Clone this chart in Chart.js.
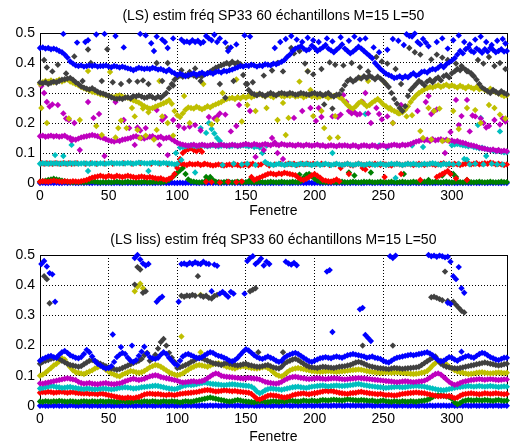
<!DOCTYPE html>
<html>
<head>
<meta charset="utf-8">
<script src="https://cdn.jsdelivr.net/npm/chart.js@4.4.0/dist/chart.umd.min.js"></script>
<style>
html, body { margin: 0; padding: 0; background: #fff; }
.box { position: absolute; left: 0; width: 510px; height: 222px; }
</style>
</head>
<body>
<div class="box" style="top:0"><canvas id="chart1"></canvas></div>
<div class="box" style="top:222px"><canvas id="chart2"></canvas></div>
<script>
// valeurs, en millièmes, une valeur toutes les 2 fenêtres
const xStep = 2;
const xTicks = [0, 50, 100, 150, 200, 250, 300];
const yTicks = [0, 0.1, 0.2, 0.3, 0.4, 0.5];
const titleTop = '(LS) estim fréq SP33 60 échantillons M=15 L=50';
const titleBottom = '(LS liss) estim fréq SP33 60 échantillons M=15 L=50';

// ---- (LS) ----
const topBlue1 = [
0,1,0,0,1,0,1,0,0,1, 0,1,1,0,0,1,0,1,0,0, 1,0,0,1,0,1,0,0,1,0, 0,1,0,1,0,0,1,0,1,0,
1,0,0,1,0,1,0,0,1,0, 0,1,0,0,1,0,1,0,0,1, 0,0,1,0,1,0,0,1,0,1, 1,0,1,0,0,1,0,1,0,0,
0,1,0,1,0,0,1,0,0,1, 1,0,0,1,0,1,0,0,1,0, 0,1,0,0,1,0,0,1,0,1, 0,0,1,0,1,0,1,0,0,1,
1,0,0,1,0,0,1,0,1,0, 0,1,0,1,0,0,1,0,0,1, 0,0,1,0,0,1,0,1,0,0, 1,0,0,1,0,1,0,0,1,0,
0,1,0,0,1,0,1,0,0,1, 0];
const topGreen = [
4,6,8,10,12,14,12,10,8,6, 4,3,2,3,2,3,2,3,4,6, 4,3,2,3,2,3,2,3,4,3, 2,3,4,3,2,3,2,3,4,3,
2,3,4,3,2,3,6,10,18,26, 34,42,50,30,12,6,4,3,2,3, 4,12,20,10,4,3,2,3,4,3, 2,3,4,3,2,3,4,3,2,3,
4,3,2,3,4,3,2,3,4,3, 2,3,4,3,2,6,18,28,30,22, 14,8,4,3,2,3,4,3,2,3, 4,3,2,3,4,3,2,3,4,3,
4,3,2,3,4,3,2,3,4,3, 2,3,4,3,2,3,4,3,2,3, 4,3,2,3,4,3,2,3,4,3, 2,3,4,3,2,3,4,3,2,3,
4,3,2,3,4,3,2,3,4,3, 3];
const topGreenExtra = [[121,20],[153,10],[189,28],[195,18],[225,35],[229,25],[241,35],[265,30],[283,10],[293,25],[301,30],[303,20],[311,10]];
const topRed = [
4,6,5,4,6,8,6,5,4,6, 5,4,6,5,4,6,8,10,14,18, 20,22,24,22,20,24,22,20,24,22, 20,22,24,22,20,18,20,22,20,18,
20,18,16,14,16,12,10,14,18,30, 50,80,100,108,112,116,110,106,114,104, 64,62,60,58,60,62,60,58,60,62, 60,62,60,58,60,62,58,20,10,14,
18,22,26,30,32,30,28,32,30,34, 32,30,28,26,18,12,10,14,20,26, 30,24,18,10,8,6,4,8,12,6, 60,62,64,60,58,62,64,62,60,62,
60,62,64,62,60,64,62,60,58,62, 64,62,60,62,64,62,60,62,64,62, 60,62,64,62,60,62,64,66,62,60, 62,64,62,60,62,64,66,62,64,66,
62,64,66,64,68,66,62,64,62,60, 62];
const topRedExtra = [[1,66],[3,64],[5,66],[7,65],[9,64],[11,66],[13,65],[15,64],[17,66],[19,64],[21,66],[23,64],[25,65],[27,66],[33,64],[37,66],[41,64],[47,65],[53,64],[61,66],[67,64],[73,66],[81,64],[87,65],[93,62],[99,60],[101,65],[103,64],[105,62],[107,60],[109,64],[111,62],[113,62],[115,64],[117,60],[119,62],[121,4],[125,3],[131,2],[137,4],[143,3],[147,5],[149,62],[153,62],[155,64],[159,60],[161,62],[165,64],[167,58],[171,62],[175,64],[179,62],[181,64],[183,62],[185,64],[187,60],[189,62],[191,64],[193,62],[195,64],[197,62],[199,64],[201,62],[205,64],[207,62],[211,60],[215,62],[219,50],[225,30],[235,50],[237,45],[251,20],[263,30],[277,10],[289,20],[291,25],[293,30],[295,35],[297,40],[299,30],[303,15],[311,10]];
const topCyan = [
64,66,65,64,66,65,66,64,65,66, 64,66,65,66,64,65,66,65,64,66, 65,64,66,65,64,66,67,65,66,65, 66,65,67,66,64,66,68,67,66,65,
66,68,67,66,65,67,66,65,64,62, 64,118,120,122,124,126,124,122,124,126, 124,122,124,126,124,122,124,126,124,122, 124,126,122,124,126,124,122,124,120,122,
118,100,70,64,62,60,62,64,62,60, 62,64,62,60,62,64,62,64,62,60, 62,64,60,62,64,62,60,62,64,62, 60,62,64,62,60,62,64,62,60,62,
64,62,60,62,64,62,60,62,64,62, 64,62,60,62,64,62,64,62,60,62, 64,62,64,66,64,62,60,64,62,64, 126,128,130,128,126,124,122,124,120,118,
116,118,114,112,110,108,106,108,104,102, 102];
const topCyanExtra = [[11,93],[17,90],[23,127],[35,40],[79,40],[99,100],[103,77],[113,35],[117,183],[121,167],[123,200],[125,180],[127,165],[129,150],[131,140],[133,60],[141,64],[147,62],[151,64],[157,60],[165,125],[213,100],[237,230],[247,125],[253,118],[259,17],[271,125],[279,120],[301,62],[305,64],[309,80],[311,78],[313,62],[317,64],[319,193],[321,217],[323,62],[325,90],[329,64],[333,62],[335,172],[337,62]];
const topMag = [
156,158,154,156,158,155,157,154,156,158, 152,150,146,144,148,152,154,156,158,160, 158,156,152,150,146,142,140,138,142,140, 144,146,148,150,154,156,152,150,148,152,
154,156,150,152,154,148,150,152,146,140, 134,130,128,126,124,126,128,124,126,128, 126,124,126,128,124,126,128,126,124,126, 128,126,124,126,128,130,128,126,130,128,
126,128,130,128,126,130,128,126,130,128, 126,128,126,124,128,126,124,128,126,124, 126,128,124,126,122,124,126,124,122,126, 124,126,124,122,126,124,120,124,126,124,
122,126,124,120,124,126,122,124,126,128, 126,124,128,126,128,130,134,138,140,144, 142,144,140,146,142,144,146,142,144,140, 142,138,140,136,134,132,128,126,124,122,
118,116,114,112,110,112,108,110,106,108, 106];
const topMagExtra = [[1,323],[3,300],[5,270],[7,255],[9,262],[13,260],[17,232],[19,215],[21,210],[23,142],[25,200],[29,110],[35,270],[39,217],[43,230],[47,90],[55,270],[61,210],[65,183],[69,127],[71,185],[73,175],[77,183],[83,150],[85,243],[87,127],[89,210],[91,220],[93,93],[97,210],[101,190],[105,183],[109,188],[113,193],[117,175],[123,220],[127,215],[129,222],[131,232],[135,228],[139,172],[143,190],[145,260],[153,240],[157,87],[163,110],[169,150],[171,135],[173,100],[177,80],[185,217],[191,240],[197,250],[201,207],[203,250],[205,220],[213,222],[217,220],[219,228],[221,293],[223,270],[225,240],[227,232],[229,236],[231,228],[233,230],[235,270],[237,300],[239,232],[241,200],[245,250],[247,230],[249,212],[253,222],[257,200],[263,260],[275,240],[281,270],[283,290],[285,230],[287,240],[289,245],[295,100],[299,170],[303,277],[305,193],[307,223],[311,277],[313,172],[315,225],[317,222],[321,215],[323,200],[325,185],[327,190],[331,210],[333,107],[335,195],[337,215],[339,205]];
const topYel = [
330,336,340,338,342,336,340,344,338,342, 346,338,334,330,326,320,316,312,308,304, 302,300,296,294,292,290,288,286,290,292, 288,286,284,280,276,272,268,262,256,252,
248,250,254,258,262,266,270,276,264,240, 226,220,232,244,252,250,248,254,250,246, 250,256,252,258,262,266,270,276,280,282, 284,280,286,282,288,284,290,286,290,294,
296,292,288,294,290,286,292,296,290,288, 292,290,294,288,290,292,286,290,294,288, 290,286,288,292,290,284,288,290,292,286, 280,270,260,252,248,256,266,272,264,256,
260,268,274,280,272,262,256,248,244,240, 236,232,236,244,256,270,282,292,300,306, 312,316,320,318,322,326,320,324,328,322, 326,322,318,324,320,316,322,318,314,320,
312,316,310,306,314,308,302,298,294,290, 292];
const topYelExtra = [[1,250],[5,200],[21,215],[29,210],[35,373],[41,190],[45,160],[51,370],[55,152],[57,183],[59,208],[63,183],[67,250],[69,222],[71,177],[73,150],[75,248],[77,158],[79,236],[83,145],[85,177],[87,340],[89,222],[93,200],[97,158],[105,290],[109,200],[119,330],[125,195],[129,210],[133,300],[143,345],[147,205],[151,260],[157,240],[165,250],[173,210],[177,267],[179,160],[181,217],[189,338],[195,373],[197,310],[199,223],[205,240],[207,183],[211,150],[215,223],[217,152],[233,350],[239,340],[251,335],[255,250],[257,200],[261,232],[267,222],[271,226],[277,173],[279,150],[283,250],[285,145],[287,240],[291,248],[293,140],[297,142],[301,240],[305,180],[311,250],[317,243],[321,200],[327,260],[331,250],[335,228],[339,215]];
const topGray = [
335,332,336,330,334,338,335,340,344,346, 348,350,344,336,330,322,318,314,312,316, 310,304,300,298,294,290,286,282,280,282, 280,284,286,282,290,288,292,288,284,286,
290,286,282,288,284,292,300,316,330,344, 352,358,354,360,356,362,358,354,360,356, 362,366,372,378,384,388,392,396,400,396, 404,398,402,396,360,330,310,300,296,292,
298,294,290,296,300,296,292,298,300,298, 296,300,298,294,296,300,298,296,294,298, 300,296,298,292,296,300,292,288,294,296, 310,326,340,346,338,344,352,348,356,350,
358,352,346,354,348,340,330,320,300,280, 264,250,240,256,290,310,320,330,340,334, 326,338,344,336,346,352,342,356,360,352, 366,372,380,376,384,378,372,366,356,344,
330,318,312,306,300,310,304,298,306,300, 296];
const topGrayExtra = [[3,410],[5,385],[9,372],[13,394],[19,365],[25,422],[31,340],[35,445],[37,400],[45,340],[49,446],[53,336],[59,330],[65,340],[71,338],[75,342],[79,330],[85,400],[89,340],[93,400],[97,325],[103,376],[109,370],[113,382],[117,340],[131,330],[135,284],[137,450],[141,340],[151,330],[155,336],[163,358],[169,375],[173,400],[177,372],[183,450],[185,432],[189,440],[193,398],[195,372],[199,362],[205,380],[207,262],[211,402],[213,248],[215,394],[221,392],[227,400],[233,386],[239,372],[245,420],[249,405],[253,398],[259,380],[263,330],[269,450],[273,436],[277,428],[285,412],[289,428],[293,418],[297,410],[303,398],[307,390],[311,372],[315,360],[319,410],[323,398],[327,420],[331,390],[335,400],[339,380]];
const topBlue2 = [
450,452,448,450,446,448,445,440,436,428, 418,405,398,392,390,392,388,390,392,390, 392,388,390,390,392,388,386,390,388,385, 388,385,382,380,376,380,384,382,380,382,
380,384,382,378,380,376,372,378,370,366, 360,364,360,356,360,362,366,360,364,368, 362,366,368,364,370,372,368,374,372,376, 378,382,386,390,388,392,390,394,392,388,
392,390,396,394,392,398,396,400,404,410, 420,428,440,448,452,456,448,442,446,458, 450,440,446,452,460,448,442,436,444,452, 462,448,440,432,438,446,454,448,440,432,
424,416,400,390,380,372,364,360,356,350, 352,356,350,356,352,360,366,358,362,370, 372,368,376,380,378,384,392,386,396,402, 408,416,428,440,432,446,452,440,436,448,
442,434,446,438,450,444,436,440,446,438, 440];
const topBlue2Extra = [[17,497],[27,468],[33,470],[35,476],[41,495],[47,497],[55,490],[61,452],[73,497],[77,492],[81,466],[83,440],[85,488],[89,478],[91,470],[93,450],[97,482],[103,478],[105,470],[107,472],[109,468],[111,476],[113,470],[115,474],[117,466],[119,470],[121,490],[123,482],[125,476],[127,494],[129,470],[131,482],[135,468],[137,440],[139,452],[143,462],[149,492],[153,488],[171,450],[175,470],[179,480],[183,490],[187,478],[191,470],[195,484],[199,476],[203,470],[209,482],[213,472],[219,486],[225,474],[229,488],[233,478],[237,482],[243,452],[247,436],[253,444],[257,480],[261,474],[265,460],[267,496],[269,490],[271,488],[273,498],[275,470],[277,462],[279,480],[281,468],[283,456],[289,470],[293,482],[297,448],[301,476],[305,492],[309,470],[313,462],[317,478],[321,488],[325,470],[329,460],[333,474],[337,480],[339,465]];

// ---- (LS liss) ----
const botBlue1 = [
1,2,1,1,2,1,2,1,1,2, 1,2,2,1,1,2,1,2,1,1, 2,1,1,2,1,2,1,1,2,1, 1,2,1,2,1,1,2,1,2,1,
2,1,1,2,1,2,1,1,2,1, 1,2,1,1,2,1,2,1,1,2, 1,1,2,1,2,1,1,2,1,2, 2,1,2,1,1,2,1,2,1,1,
1,2,1,2,1,1,2,1,1,2, 2,1,1,2,1,2,1,1,2,1, 1,2,1,1,2,1,1,2,1,2, 1,1,2,1,2,1,2,1,1,2,
2,1,1,2,1,1,2,1,2,1, 1,2,1,2,1,1,2,1,1,2, 1,1,2,1,1,2,1,2,1,1, 2,1,1,2,1,2,1,1,2,1,
1,2,1,1,2,1,2,1,1,2, 1];
const botGreen = [
15,14,16,15,14,16,15,17,16,15, 14,16,15,14,13,15,16,15,14,16, 15,14,16,15,14,16,15,14,13,15, 16,15,14,13,15,16,15,14,16,15,
14,16,15,13,14,16,15,14,16,15, 14,12,14,16,15,14,16,18,20,22, 24,26,28,26,24,22,20,18,16,15, 16,18,20,18,16,15,14,13,12,14,
15,16,14,13,15,16,15,14,16,15, 16,18,17,16,15,16,18,17,16,18, 17,16,18,20,19,18,20,21,20,19, 18,20,22,21,20,19,18,20,19,18,
17,18,16,15,17,18,16,15,14,16, 15,14,16,15,14,16,15,14,16,17, 18,20,24,30,34,36,35,33,32,30, 24,12,6,10,16,18,20,19,18,20,
19,18,20,19,18,17,19,20,18,17, 18];
const botRed = [
44,46,45,47,46,44,45,46,47,45, 44,45,46,44,43,42,41,42,40,41, 40,39,41,40,38,36,34,32,30,28, 27,26,28,27,26,28,30,34,38,40,
41,40,39,40,38,37,36,38,37,36, 38,40,41,42,43,44,45,46,48,50, 52,53,52,50,48,49,50,52,51,50, 49,50,48,47,46,45,44,40,32,24,
22,26,30,34,36,35,34,32,30,28, 30,32,36,38,40,41,42,40,39,41, 42,44,46,48,50,49,50,48,46,44, 42,41,40,42,43,44,46,47,45,44,
42,41,40,39,40,38,36,37,36,35, 36,38,40,41,42,43,44,45,44,43, 42,40,38,36,34,32,33,34,32,33, 30,26,28,34,38,40,41,42,41,40,
39,40,42,41,40,41,42,41,40,39, 40];
const botCyan = [
58,60,62,64,66,65,63,62,60,61, 62,63,61,60,58,57,56,58,57,56, 55,56,57,58,57,56,55,56,58,60, 61,62,61,60,58,59,60,62,63,64,
65,66,67,66,64,62,60,58,57,56, 58,62,66,68,70,69,70,72,74,76, 78,76,74,73,72,71,70,69,70,71, 72,71,70,69,68,67,66,64,58,48,
42,46,52,56,58,57,56,55,54,56, 58,60,62,63,64,62,61,60,62,64, 65,66,67,68,66,65,66,67,68,67, 66,67,68,69,70,72,73,71,69,68,
66,65,64,63,62,61,60,61,62,63, 64,63,62,63,64,65,66,67,66,65, 64,62,60,58,56,54,53,52,54,56, 58,60,62,63,64,65,66,65,64,65,
66,65,64,65,66,65,64,63,64,65, 64];
const botMag = [
75,74,76,78,80,82,84,86,88,90, 92,90,88,86,80,76,74,75,76,74, 73,72,74,75,76,74,73,72,74,75, 78,82,85,88,90,88,86,88,90,94,
98,100,102,100,96,94,92,90,88,86, 84,80,78,79,80,81,82,80,81,83, 86,92,98,104,108,106,100,98,97,96, 95,94,93,92,91,92,93,92,91,90,
88,84,80,78,76,75,74,76,80,86, 90,94,96,97,95,93,92,90,89,90, 91,92,91,90,89,90,91,92,91,90, 89,88,89,90,91,92,93,92,91,90,
89,88,87,86,85,84,83,82,81,80, 79,80,81,82,81,80,79,80,81,82, 84,88,94,100,106,108,104,96,88,80, 74,70,72,76,80,82,84,86,87,88,
89,88,87,88,89,88,87,86,87,88, 88];
const botYel = [
100,104,110,118,126,134,140,148,158,154, 140,128,118,112,110,108,106,110,114,118, 124,128,132,128,120,114,108,104,100,98, 104,108,112,116,114,112,110,112,116,122,
128,132,136,134,130,124,118,112,108,104, 102,104,108,114,120,126,130,134,136,134, 132,130,134,138,140,142,138,134,130,128, 126,124,128,130,132,130,128,126,125,124,
126,128,130,126,120,112,104,100,98,104, 112,118,122,124,126,124,122,120,118,116, 115,114,113,114,115,116,115,114,113,114, 115,116,117,118,119,120,121,120,118,116,
114,113,112,111,110,111,112,111,110,111, 112,111,110,109,108,107,106,107,108,110, 112,116,124,134,142,148,150,146,138,130, 124,118,114,112,110,108,106,107,108,110,
111,112,110,109,108,109,110,111,110,109, 110];
const botYelExtra = [[69,380],[71,395],[73,405],[75,390],[103,230],[117,178],[117,368]];
const botGray = [
140,146,150,152,156,158,160,156,150,145, 140,136,134,132,130,132,138,144,150,152, 148,144,140,136,132,128,124,122,120,122, 126,130,134,138,142,146,150,156,168,176,
150,156,170,190,212,222,200,176,160,146, 126,128,132,136,140,146,150,156,160,158, 154,150,146,142,140,138,136,140,142,140, 138,136,134,136,138,140,136,134,132,130,
130,132,134,136,132,128,126,124,130,140, 146,150,154,156,152,146,140,134,130,128, 127,126,128,130,129,128,127,126,128,130, 131,132,134,136,140,144,146,144,140,136,
132,130,128,126,125,124,123,122,124,126, 125,124,123,124,125,126,127,128,130,136, 142,148,154,160,164,150,140,134,130,128, 126,125,124,126,128,130,132,134,136,138,
140,142,144,142,140,138,136,134,136,138, 140];
const botGrayExtra = [[3,430],[5,420],[7,340],[69,402],[71,460],[73,452],[75,375],[77,380],[103,365],[105,362],[107,366],[109,364],[111,368],[113,365],[115,430],[117,366],[119,362],[121,365],[123,358],[125,356],[127,364],[129,368],[153,380],[155,385],[157,390],[159,178],[177,178],[235,200],[257,200],[285,360],[287,362],[289,358],[291,354],[293,350],[295,445],[297,348],[301,345],[303,335],[305,325],[307,315],[309,310]];
const botBlue2 = [
150,156,160,164,166,162,160,170,178,182, 176,168,164,160,158,162,172,186,178,164, 150,140,134,128,124,126,132,146,162,170, 176,172,160,150,146,152,166,180,196,174,
162,158,156,160,170,178,172,160,150,140, 136,150,164,170,172,168,164,160,158,162, 168,174,178,176,170,166,164,160,156,150, 148,152,160,170,180,188,184,176,168,162,
158,156,160,164,160,156,150,146,150,160, 166,170,174,176,172,166,160,154,148,146, 150,154,158,160,162,160,158,162,164,162, 160,164,168,170,172,170,168,166,164,160,
162,164,160,158,156,150,146,144,150,156, 160,162,164,166,168,170,168,170,172,174, 176,178,174,168,160,152,148,150,156,162, 160,154,150,156,160,164,166,162,160,166,
172,176,174,168,162,158,154,152,156,160, 160];
const botBlue2Extra = [[1,470],[3,480],[5,462],[7,440],[9,436],[11,345],[53,237],[59,195],[67,200],[69,490],[71,500],[73,485],[75,472],[77,465],[79,470],[85,345],[87,355],[89,362],[101,345],[103,470],[105,472],[107,468],[109,474],[111,470],[113,476],[115,472],[117,470],[119,478],[121,472],[123,470],[125,380],[127,468],[129,464],[131,372],[133,378],[135,370],[137,362],[139,378],[141,372],[149,372],[151,480],[153,490],[155,496],[157,470],[159,478],[161,488],[163,465],[165,478],[167,470],[179,478],[181,472],[183,468],[185,474],[187,466],[209,445],[211,450],[213,245],[233,320],[235,325],[237,235],[239,225],[241,215],[255,496],[257,490],[259,498],[283,500],[285,496],[287,498],[289,494],[291,498],[293,496],[295,492],[297,494],[299,478],[301,430],[303,420],[305,460],[307,390],[309,375],[297,342],[299,338],[307,180]];

const colors = ['#0000ff', '#008000', '#ff0000', '#00bfbf', '#bf00bf', '#bfbf00', '#404040', '#0000ff'];
const fontFamily = '"Liberation Sans", Arial, sans-serif';

function toPoints(main, extra) {
    const pts = main.map((v, i) => ({ x: i * xStep, y: v / 1000 }));
    extra.forEach(p => pts.push({ x: p[0], y: p[1] / 1000 }));
    return pts;
}

// cadre plein autour de la zone de tracé
const boxPlugin = {
    id: 'box',
    beforeDatasetsDraw(chart) {
        const a = chart.chartArea;
        const ctx = chart.ctx;
        ctx.save();
        ctx.strokeStyle = '#000';
        ctx.lineWidth = 1;
        ctx.strokeRect(Math.round(a.left) + 0.5, Math.round(a.top) + 0.5,
            Math.round(a.right - a.left), Math.round(a.bottom - a.top));
        ctx.restore();
    }
};

function makeChart(id, title, series, titlePad, axisHeight, fenPad) {
    const font = { family: fontFamily, size: 14 };
    return new Chart(document.getElementById(id), {
        type: 'scatter',
        data: {
            datasets: series.map((s, i) => ({
                data: toPoints(s[0], s[1]),
                backgroundColor: colors[i],
                borderWidth: 0,
                pointStyle: 'rectRot',
                pointRadius: 3.2,
                pointHoverRadius: 3.2,
                clip: false,
                order: series.length - i
            }))
        },
        options: {
            responsive: true,
            maintainAspectRatio: false,
            animation: false,
            events: [],
            layout: { padding: { left: 0, right: 2, top: 0, bottom: 0 } },
            plugins: {
                legend: { display: false },
                tooltip: { enabled: false },
                title: {
                    display: true, text: title, color: '#000', fullSize: false,
                    font: { family: fontFamily, size: 14, weight: 'normal' },
                    padding: titlePad
                }
            },
            scales: {
                x: {
                    type: 'linear', min: 0, max: 340,
                    afterBuildTicks: sc => { sc.ticks = xTicks.map(v => ({ value: v })); },
                    afterFit: sc => { sc.height = axisHeight; },
                    grid: { color: '#000', drawTicks: false, lineWidth: 1 },
                    border: { display: false, dash: [1, 2] },
                    ticks: { color: '#000', font: font, padding: 5, maxRotation: 0, autoSkip: false },
                    title: { display: true, text: 'Fenetre', color: '#000',
                        font: { family: fontFamily, size: 14, lineHeight: 1 }, padding: { top: 0, bottom: fenPad } }
                },
                y: {
                    min: 0, max: 0.5,
                    afterBuildTicks: sc => { sc.ticks = yTicks.map(v => ({ value: v })); },
                    afterFit: sc => { sc.width = 40; },
                    grid: { color: '#000', drawTicks: false, lineWidth: 1 },
                    border: { display: false, dash: [1, 2] },
                    ticks: { color: '#000', font: font, padding: 5, callback: v => v === 0 ? '0' : v.toFixed(1) }
                }
            }
        },
        plugins: [boxPlugin]
    });
}

makeChart('chart1', titleTop, [
    [topBlue1, []], [topGreen, topGreenExtra], [topRed, topRedExtra], [topCyan, topCyanExtra],
    [topMag, topMagExtra], [topYel, topYelExtra], [topGray, topGrayExtra], [topBlue2, topBlue2Extra]
], { top: 7.6, bottom: 8.6 }, 39, 4);

makeChart('chart2', titleBottom, [
    [botBlue1, []], [botGreen, []], [botRed, []], [botCyan, []],
    [botMag, []], [botYel, botYelExtra], [botGray, botGrayExtra], [botBlue2, botBlue2Extra]
], { top: 9.6, bottom: 6.6 }, 38, 0);
</script>
</body>
</html>
